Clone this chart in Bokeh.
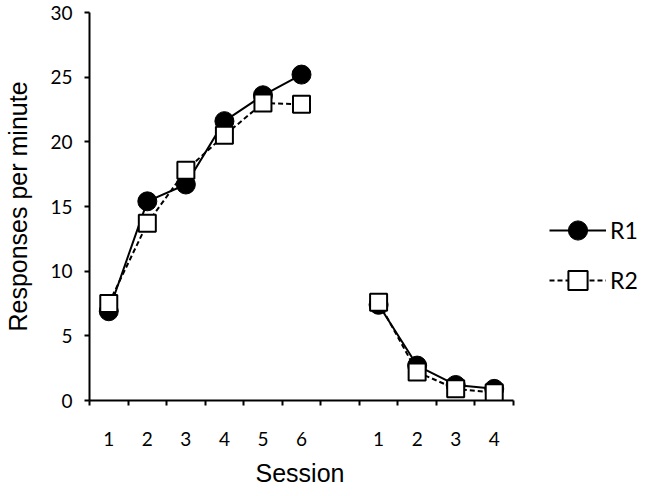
from bokeh.plotting import figure
from bokeh.models import FixedTicker, Legend, LegendItem, Range1d, Title
from bokeh.embed import file_html
from bokeh.resources import INLINE

# Data
acq_sessions = [1, 2, 3, 4, 5, 6]
ext_sessions = [1, 2, 3, 4]
r1_acq = [6.9, 15.4, 16.7, 21.6, 23.6, 25.2]
r2_acq = [7.5, 13.7, 17.8, 20.5, 23.0, 22.9]
r1_ext = [7.4, 2.7, 1.2, 0.9]
r2_ext = [7.6, 2.2, 0.9, 0.6]
y_ticks = [0, 5, 10, 15, 20, 25, 30]

# Positions along a continuous axis (one empty slot between phases)
acq_x = [s for s in acq_sessions]
ext_x = [len(acq_sessions) + 1 + s for s in ext_sessions]
n_slots = len(acq_sessions) + 1 + len(ext_sessions)

W, H = 649, 496
left, top, bottom = 89, 12, 96
axis_px = 424.0  # pixel length of the drawn x axis
unit = axis_px / n_slots
x_end = 0.5 + (W - left) / unit

p = figure(width=W, height=H, output_backend="svg", toolbar_location=None,
           x_range=Range1d(0.5, x_end), y_range=Range1d(0, 30),
           min_border_left=left, min_border_top=top, min_border_right=0,
           min_border_bottom=bottom)
p.outline_line_color = None
p.xgrid.grid_line_color = None
p.ygrid.grid_line_color = None
p.background_fill_color = "white"
p.border_fill_color = "white"

# x axis
xa = p.xaxis[0]
xa.bounds = (0.5, n_slots + 0.5)
xa.ticker = FixedTicker(ticks=acq_x + ext_x,
                        minor_ticks=[i + 0.5 for i in range(0, n_slots + 1)])
overrides = {}
for x, s in zip(acq_x, acq_sessions):
    overrides[x] = str(s)
for x, s in zip(ext_x, ext_sessions):
    overrides[x] = str(s)
xa.major_label_overrides = overrides
xa.major_tick_line_color = None
xa.major_tick_out = 0
xa.major_tick_in = 0
xa.minor_tick_out = 5
xa.minor_tick_in = 0
xa.minor_tick_line_color = "black"
xa.minor_tick_line_width = 2
xa.axis_line_width = 2
xa.axis_line_color = "black"
xa.major_label_standoff = 26
xa.major_label_text_font = "Lato"
xa.major_label_text_font_size = "19px"
xa.major_label_text_color = "black"

# "Session" title centred under the drawn axis
session_w = 92
session_title = Title(text="Session", align="left",
                      offset=axis_px / 2 - session_w / 2,
                      text_font="Liberation Sans", text_font_size="25px",
                      text_font_style="normal", text_color="black",
                      standoff=17)
p.add_layout(session_title, "below")

# y axis
ya = p.yaxis[0]
ya.ticker = FixedTicker(ticks=y_ticks, minor_ticks=[])
ya.major_tick_out = 5
ya.major_tick_in = 0
ya.major_tick_line_width = 2
ya.major_tick_line_color = "black"
ya.axis_line_width = 2
ya.axis_line_color = "black"
ya.major_label_standoff = 12
ya.major_label_text_font = "Lato"
ya.major_label_text_font_size = "19px"
ya.major_label_text_color = "black"
ya.axis_label = "Responses per minute"
ya.axis_label_text_font = "Liberation Sans"
ya.axis_label_text_font_size = "25px"
ya.axis_label_text_font_style = "normal"
ya.axis_label_text_color = "black"
ya.axis_label_standoff = 15

# lines
l1a = p.line(acq_x, r1_acq, line_color="black", line_width=2)
l1b = p.line(ext_x, r1_ext, line_color="black", line_width=2)
l2a = p.line(acq_x, r2_acq, line_color="black", line_width=2, line_dash="5 3")
l2b = p.line(ext_x, r2_ext, line_color="black", line_width=2, line_dash="5 3")

# markers
c1 = p.scatter(acq_x + ext_x, r1_acq + r1_ext, marker="circle", size=19,
               fill_color="black", line_color="black", line_width=1)
s2 = p.scatter(acq_x + ext_x, r2_acq + r2_ext, marker="square", size=17,
               fill_color="white", line_color="black", line_width=2)

legend = Legend(items=[LegendItem(label="R1", renderers=[l1a, c1]),
                       LegendItem(label="R2", renderers=[l2a, s2])],
                location=(460, 96), glyph_width=57, glyph_height=48,
                label_height=48, spacing=2, padding=0, margin=0,
                label_standoff=4, border_line_color=None,
                background_fill_alpha=0,
                label_text_font="Lato", label_text_font_size="23px",
                label_text_color="black")
p.add_layout(legend)

open("out.html", "w").write(file_html(p, INLINE))
